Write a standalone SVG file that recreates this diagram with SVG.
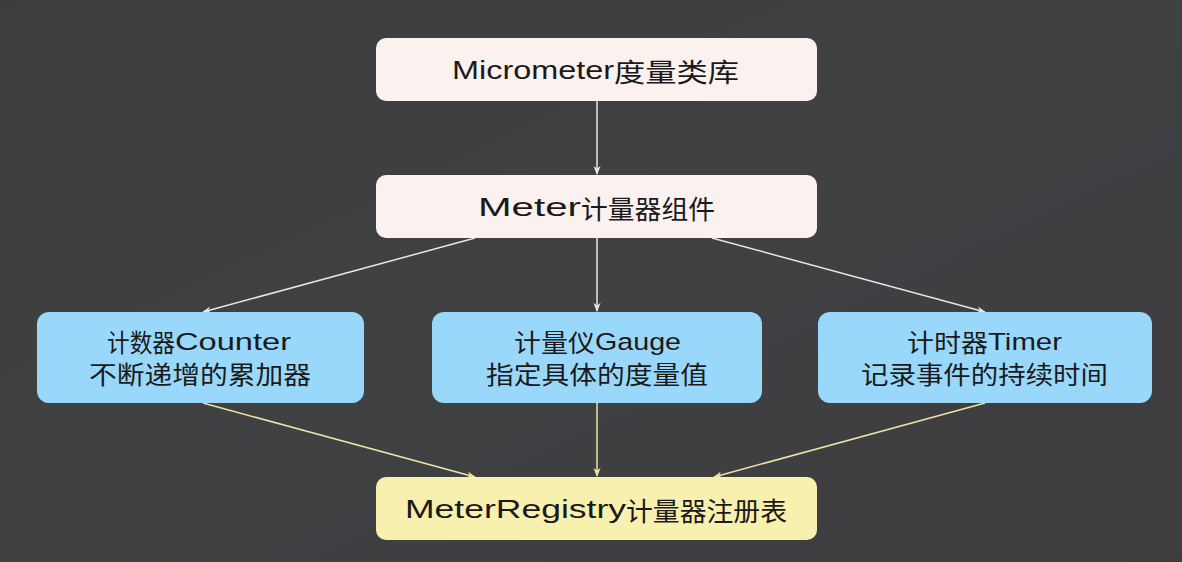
<svg xmlns="http://www.w3.org/2000/svg" width="1182" height="562" viewBox="0 0 1182 562">
<defs>
<linearGradient id="bg" x1="0" y1="0" x2="1" y2="1">
<stop offset="0" stop-color="#3b3d3f"/>
<stop offset="0.5" stop-color="#3f4143"/>
<stop offset="1" stop-color="#3e3c3f"/>
</linearGradient>
<marker id="aw" viewBox="0 0 10 10" refX="9" refY="5" markerWidth="9" markerHeight="9" markerUnits="userSpaceOnUse" orient="auto">
<path d="M0,1 L10,5 L0,9 L3,5 Z" fill="#e6e6e6"/>
</marker>
<marker id="ay" viewBox="0 0 10 10" refX="9" refY="5" markerWidth="9" markerHeight="9" markerUnits="userSpaceOnUse" orient="auto">
<path d="M0,1 L10,5 L0,9 L3,5 Z" fill="#ece3a6"/>
</marker>
</defs>
<style>
.t{font-family:"Noto Sans CJK SC","Noto Sans",sans-serif;fill:#1a1a1a;dominant-baseline:central}
.la{font-family:"Liberation Sans","Noto Sans CJK SC",sans-serif}
.big{font-size:26px}
.mid{font-size:24.5px}
.pink{fill:#fbf1ef}
.blue{fill:#99d8fb}
.yel{fill:#f8f0ae}
.w{stroke:#e6e6e6;stroke-width:1.5;fill:none;marker-end:url(#aw)}
.y{stroke:#ece3a6;stroke-width:1.5;fill:none;marker-end:url(#ay)}
</style>
<rect width="1182" height="562" fill="url(#bg)"/>
<g id="connectors">
<line class="w" x1="597" y1="101" x2="597" y2="174"/>
<line class="w" x1="475" y1="238" x2="203" y2="312"/>
<line class="w" x1="597" y1="238" x2="597" y2="311"/>
<line class="w" x1="712" y1="238" x2="985" y2="312"/>
<line class="y" x1="203" y1="403" x2="475" y2="477"/>
<line class="y" x1="597" y1="403" x2="597" y2="476"/>
<line class="y" x1="985" y1="403" x2="714" y2="477"/>
</g>
<g id="micrometer">
<rect class="pink" x="376" y="38" width="441" height="63" rx="10"/>
<text class="t big" y="70"><tspan class="la" x="452" textLength="162" lengthAdjust="spacingAndGlyphs">Micrometer</tspan><tspan x="614" textLength="125" lengthAdjust="spacingAndGlyphs">度量类库</tspan></text>
</g>
<g id="meter">
<rect class="pink" x="376" y="175" width="441" height="63" rx="10"/>
<text class="t big" y="207"><tspan class="la" x="478" textLength="103" lengthAdjust="spacingAndGlyphs">Meter</tspan><tspan x="581" textLength="134" lengthAdjust="spacingAndGlyphs">计量器组件</tspan></text>
</g>
<g id="counter">
<rect class="blue" x="37" y="312" width="327" height="91" rx="12"/>
<text class="t mid"><tspan x="107" y="341" textLength="68" lengthAdjust="spacingAndGlyphs">计数器</tspan><tspan class="la" x="175" y="341" textLength="116" lengthAdjust="spacingAndGlyphs">Counter</tspan><tspan x="89" y="373" textLength="222" lengthAdjust="spacingAndGlyphs">不断递增的累加器</tspan></text>
</g>
<g id="gauge">
<rect class="blue" x="432" y="312" width="330" height="91" rx="12"/>
<text class="t mid"><tspan x="514" y="341" textLength="81" lengthAdjust="spacingAndGlyphs">计量仪</tspan><tspan class="la" x="595" y="341" textLength="86" lengthAdjust="spacingAndGlyphs">Gauge</tspan><tspan x="486" y="373" textLength="222" lengthAdjust="spacingAndGlyphs">指定具体的度量值</tspan></text>
</g>
<g id="timer">
<rect class="blue" x="818" y="312" width="334" height="91" rx="12"/>
<text class="t mid"><tspan x="907" y="341" textLength="81" lengthAdjust="spacingAndGlyphs">计时器</tspan><tspan class="la" x="988" y="341" textLength="74" lengthAdjust="spacingAndGlyphs">Timer</tspan><tspan x="861" y="373" textLength="247" lengthAdjust="spacingAndGlyphs">记录事件的持续时间</tspan></text>
</g>
<g id="registry">
<rect class="yel" x="376" y="477" width="441" height="63" rx="10"/>
<text class="t big" y="509"><tspan class="la" x="405" textLength="221" lengthAdjust="spacingAndGlyphs">MeterRegistry</tspan><tspan x="626" textLength="161" lengthAdjust="spacingAndGlyphs">计量器注册表</tspan></text>
</g>
</svg>
